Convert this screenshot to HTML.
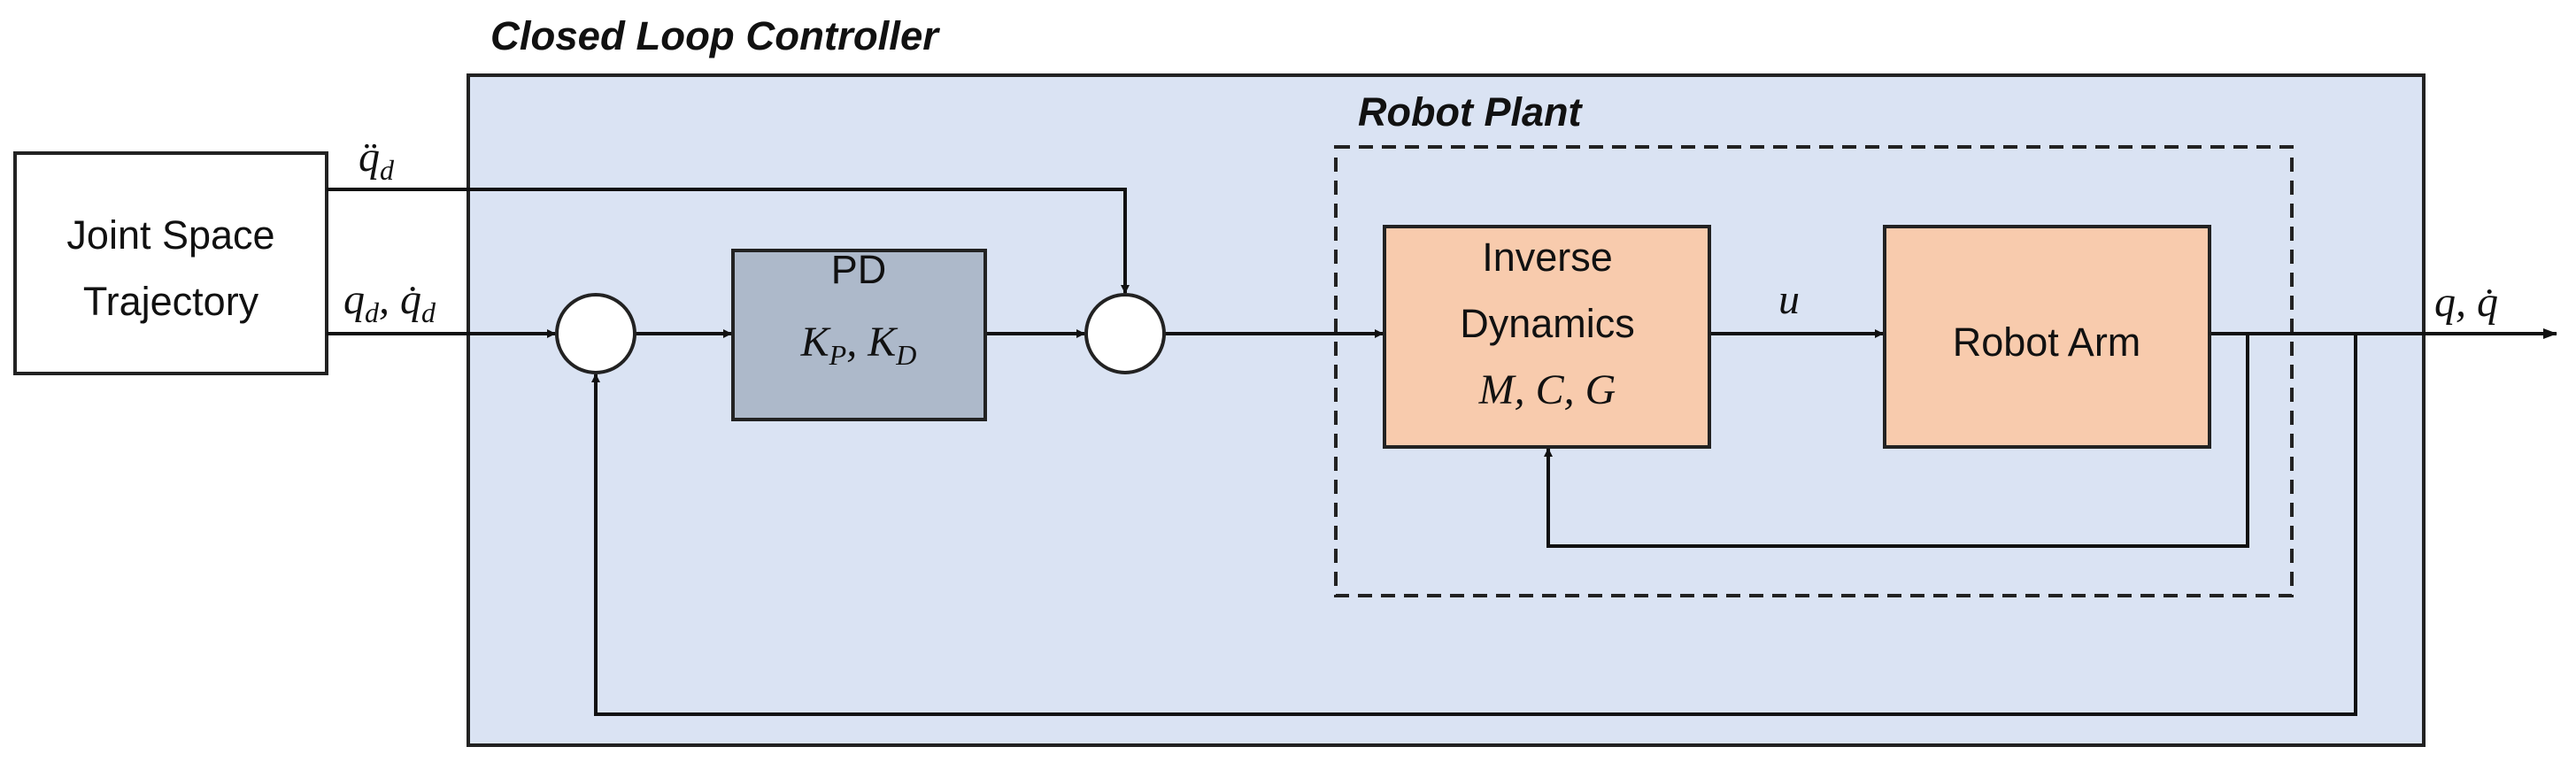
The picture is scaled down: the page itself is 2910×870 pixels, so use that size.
<!DOCTYPE html>
<html><head><meta charset="utf-8"><style>
html,body{margin:0;padding:0;background:#fff;}
svg{display:block;}
text{font-family:"Liberation Sans",sans-serif;fill:#111;}
.m{font-family:"Liberation Serif",serif;font-style:italic;}
</style></head><body>
<svg width="2910" height="870" viewBox="0 0 2910 870" xmlns="http://www.w3.org/2000/svg">
<defs>
<marker id="a" markerWidth="10" markerHeight="10" refX="9" refY="5" orient="auto" markerUnits="userSpaceOnUse" viewBox="0 0 10 10">
<path d="M0,0 L10,5 L0,10 z" fill="#111"/></marker>
<marker id="b" markerWidth="16" markerHeight="16" refX="15" refY="8" orient="auto" markerUnits="userSpaceOnUse" viewBox="0 0 16 16">
<path d="M0,2 L16,8 L0,14 z" fill="#111"/></marker>
</defs>
<text x="554" y="56" font-size="45" font-weight="bold" font-style="italic" textLength="506" lengthAdjust="spacingAndGlyphs">Closed Loop Controller</text>
<rect x="529" y="85" width="2209" height="757" fill="#dae3f3" stroke="#222" stroke-width="4"/>
<rect x="17" y="173" width="352" height="249" fill="#fff" stroke="#222" stroke-width="4"/>
<text x="193" y="281" font-size="45" text-anchor="middle">Joint Space</text>
<text x="193" y="356" font-size="45" text-anchor="middle">Trajectory</text>
<text x="1534" y="142" font-size="45" font-weight="bold" font-style="italic">Robot Plant</text>
<rect x="1509" y="166" width="1080" height="507" fill="none" stroke="#222" stroke-width="4" stroke-dasharray="16,10"/>
<g stroke="#111" stroke-width="4" fill="none">
<polyline points="369,214 1271,214 1271,331" marker-end="url(#a)"/>
<line x1="369" y1="377" x2="627" y2="377" marker-end="url(#a)"/>
<line x1="717" y1="377" x2="826" y2="377" marker-end="url(#a)"/>
<line x1="1113" y1="377" x2="1225" y2="377" marker-end="url(#a)"/>
<line x1="1315" y1="377" x2="1562" y2="377" marker-end="url(#a)"/>
<line x1="1931" y1="377" x2="2127" y2="377" marker-end="url(#a)"/>
<line x1="2496" y1="377" x2="2888" y2="377" marker-end="url(#b)"/>
<polyline points="2539,377 2539,617 1749,617 1749,507" marker-end="url(#a)"/>
<polyline points="2661,377 2661,807 673,807 673,423" marker-end="url(#a)"/>
</g>
<circle cx="673" cy="377" r="44" fill="#fff" stroke="#222" stroke-width="4"/>
<circle cx="1271" cy="377" r="44" fill="#fff" stroke="#222" stroke-width="4"/>
<rect x="828" y="283" width="285" height="191" fill="#adb9ca" stroke="#222" stroke-width="4"/>
<text x="970" y="320" font-size="45" text-anchor="middle">PD</text>
<text x="970" y="402" font-size="48" text-anchor="middle" class="m">K<tspan font-size="32" dy="10">P</tspan><tspan dy="-10">, K</tspan><tspan font-size="32" dy="10">D</tspan></text>
<rect x="1564" y="256" width="367" height="249" fill="#f8cbad" stroke="#222" stroke-width="4"/>
<text x="1748" y="306" font-size="45" text-anchor="middle">Inverse</text>
<text x="1748" y="381" font-size="45" text-anchor="middle">Dynamics</text>
<text x="1748" y="456" font-size="48" text-anchor="middle" class="m">M, C, G</text>
<rect x="2129" y="256" width="367" height="249" fill="#f8cbad" stroke="#222" stroke-width="4"/>
<text x="2312" y="402" font-size="45" text-anchor="middle">Robot Arm</text>
<text x="2021" y="354" font-size="48" text-anchor="middle" class="m">u</text>
<text x="2786" y="357" font-size="48" text-anchor="middle" class="m">q, q̇</text>
<text x="425" y="193" font-size="48" text-anchor="middle" class="m">q̈<tspan font-size="32" dy="10">d</tspan></text>
<text x="440" y="354" font-size="48" text-anchor="middle" class="m">q<tspan font-size="32" dy="10">d</tspan><tspan dy="-10">, q̇</tspan><tspan font-size="32" dy="10">d</tspan></text>
</svg>
</body></html>
